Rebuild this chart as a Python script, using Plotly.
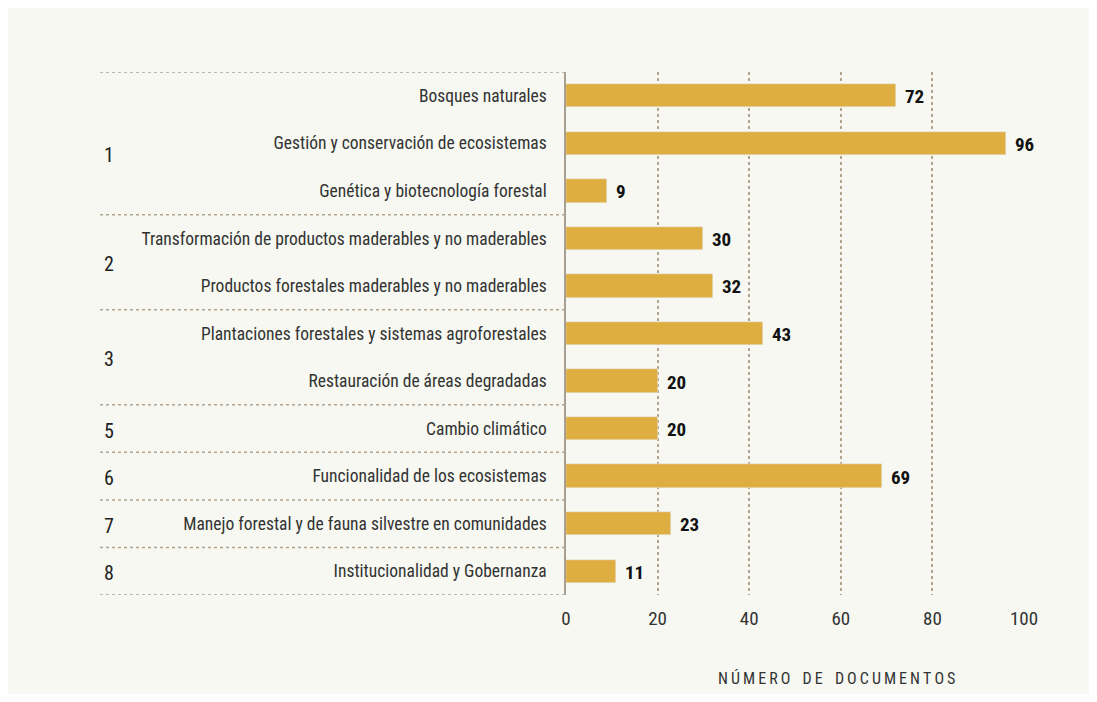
import plotly.graph_objects as go

categories = [
    "Bosques naturales",
    "Gestión y conservación de ecosistemas",
    "Genética y biotecnología forestal",
    "Transformación de productos maderables y no maderables",
    "Productos forestales maderables y no maderables",
    "Plantaciones forestales y sistemas agroforestales",
    "Restauración de áreas degradadas",
    "Cambio climático",
    "Funcionalidad de los ecosistemas",
    "Manejo forestal y de fauna silvestre en comunidades",
    "Institucionalidad y Gobernanza",
]
documents = [72, 96, 9, 30, 32, 43, 20, 20, 69, 23, 11]
groups = ["1", "1", "1", "2", "2", "3", "3", "5", "6", "7", "8"]
x_ticks = [0, 20, 40, 60, 80, 100]
x_title = "NÚMERO DE DOCUMENTOS"

FONT = "Roboto Condensed, Liberation Sans Narrow, DejaVu Sans Condensed, Arial Narrow, sans-serif"
BAR = "#dfae41"
DOTS = "#b3a48e"
BG = "#f6f8f1"

# the page body adds an 8px margin, so the figure sits at (8, 8)
W, H = 1081, 686
L, R, T, B = 558, 65, 64, 99
pw, ph = W - L - R, H - T - B


def px_x(p):
    return (p - L) / pw


def px_y(p):
    return 1 - (p - T) / ph


fig = go.Figure()
fig.add_trace(go.Bar(
    x=documents, y=list(range(len(categories))), orientation="h",
    marker_color=BAR, width=0.49, hoverinfo="x",
))

# value labels
for i, v in enumerate(documents):
    fig.add_annotation(x=v, y=i, text=f"<b>{v}</b>", showarrow=False,
                       xanchor="left", xshift=7, yshift=-1,
                       font=dict(family=FONT, size=19, color="#111"))

# group numbers and separators
n = len(groups)
bounds = [-0.5] + [i + 0.5 for i in range(n - 1) if groups[i] != groups[i + 1]] + [n - 0.5]
for k, (a, b) in enumerate(zip(bounds[:-1], bounds[1:])):
    fig.add_annotation(x=px_x(101), xref="paper", y=(a + b) / 2, text=groups[int(a + 0.5)],
                       showarrow=False, xanchor="center", yshift=-12 if k == 0 else -2,
                       font=dict(family=FONT, size=20, color="#222"))
for yb in bounds:
    fig.add_shape(type="line", xref="paper", x0=px_x(92), x1=0, y0=yb, y1=yb,
                  line=dict(color=DOTS, width=1.5, dash="dot"))

title_txt = "\u2009".join(x_title).replace("\u2009 \u2009", "\u2009\u2009\u2009\u2009")
fig.add_annotation(xref="paper", yref="paper", x=px_x(828), y=px_y(670),
                   text=title_txt, showarrow=False, xanchor="center", yanchor="middle",
                   font=dict(family=FONT, size=16, color="#333"))

fig.update_xaxes(range=[0, 100], tickvals=x_ticks, showgrid=True, gridcolor=DOTS,
                 griddash="dot", gridwidth=1.5, zeroline=False, showline=False,
                 ticks="", ticklabelstandoff=10,
                 tickfont=dict(family=FONT, size=19, color="#333"))
fig.update_yaxes(range=[n - 0.5, -0.5], tickvals=list(range(n)), ticktext=categories,
                 showgrid=False, zeroline=False, showline=True, linecolor="#a89f90",
                 linewidth=1.5, ticks="", ticklabelstandoff=14,
                 tickfont=dict(family=FONT, size=17.5, color="#333"))

fig.update_layout(
    width=W, height=H, margin=dict(l=L, r=R, t=T, b=B),
    paper_bgcolor=BG, plot_bgcolor=BG, showlegend=False, bargap=0,
)
fig.write_html("out.html")
